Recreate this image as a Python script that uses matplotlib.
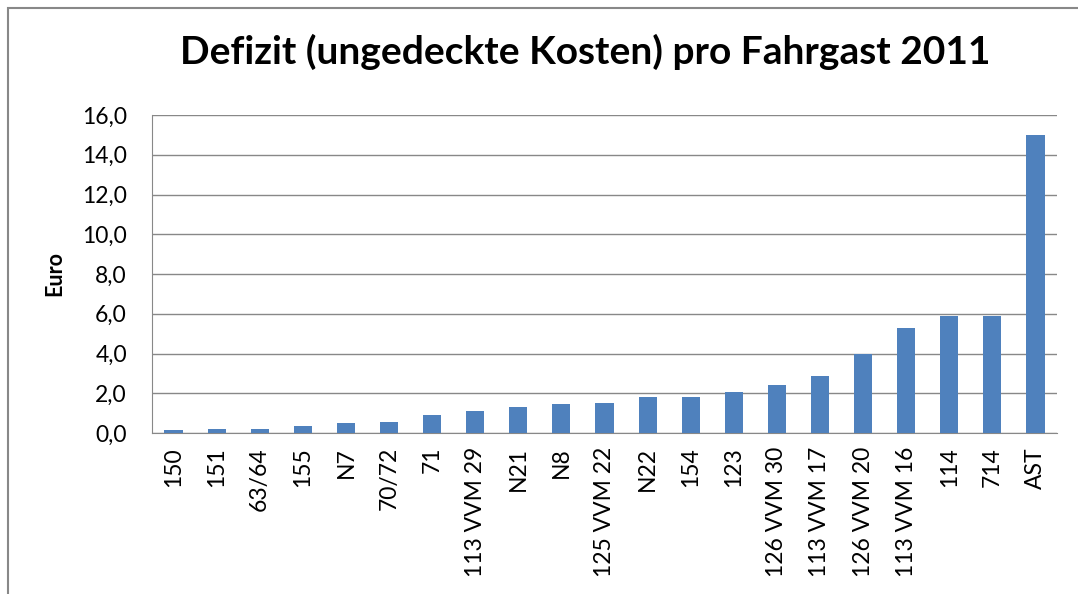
import matplotlib.pyplot as plt
from matplotlib.patches import Rectangle

# ==== Daten ====
linien = ["150", "151", "63/64", "155", "N7", "70/72", "71", "113 VVM 29", "N21",
          "N8", "125 VVM 22", "N22", "154", "123", "126 VVM 30", "113 VVM 17",
          "126 VVM 20", "113 VVM 16", "114", "714", "AST"]
defizit = [0.15, 0.21, 0.21, 0.36, 0.48, 0.55, 0.93, 1.12, 1.31, 1.45, 1.51,
           1.82, 1.82, 2.08, 2.4, 2.85, 4.0, 5.3, 5.87, 5.87, 15.0]
y_ticks = [0, 2, 4, 6, 8, 10, 12, 14, 16]

plt.rcParams["font.family"] = ["Lato", "DejaVu Sans"]

fig = plt.figure(figsize=(10.78, 5.94), dpi=100)
ax = fig.add_axes([152 / 1078, 1 - 433 / 594, 905 / 1078, 318 / 594])

# Rahmen um das Diagramm
fig.patches.append(Rectangle((8 / 1078, -0.01), 1.02, 1 - 8 / 594 + 0.01,
                             transform=fig.transFigure, fill=False,
                             edgecolor="#888888", linewidth=1.5))

x = range(len(linien))
ax.bar(x, defizit, width=0.42, color="#4F81BD", zorder=3)

ax.set_xlim(-0.5, len(linien) - 0.5)
ax.set_ylim(0, 16)
ax.set_yticks(y_ticks)
ax.set_yticklabels([f"{v:.1f}".replace(".", ",") for v in y_ticks], fontsize=16.5)
ax.set_xticks(list(x))
ax.set_xticklabels(linien, rotation=90, fontsize=16.5)
ax.tick_params(axis="x", length=0, pad=10)
ax.tick_params(axis="y", length=0, pad=18)

ax.grid(axis="y", color="#888888", linewidth=1, zorder=0)
for s in ["top", "right"]:
    ax.spines[s].set_visible(False)
for s in ["left", "bottom"]:
    ax.spines[s].set_color("#888888")

ax.set_ylabel("Euro", fontsize=15.5, fontweight="bold", labelpad=12)
fig.text(585 / 1078, 1 - 52 / 594, "Defizit (ungedeckte Kosten) pro Fahrgast 2011",
         ha="center", va="center", fontsize=28, fontweight="bold")

fig.savefig("out.png", dpi=100)
